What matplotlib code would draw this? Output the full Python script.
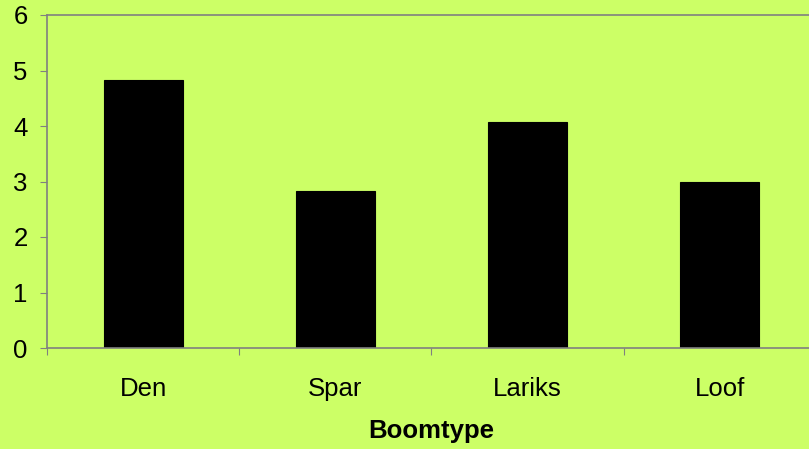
import matplotlib.pyplot as plt
import numpy as np

# data
categories = ['Den', 'Spar', 'Lariks', 'Loof']
values = [4.83, 2.83, 4.07, 3.0]
y_ticks = [0, 1, 2, 3, 4, 5, 6]

bg = '#CCFF66'
grey = '#808080'

plt.rcParams['font.family'] = ['Liberation Sans', 'DejaVu Sans']

fig = plt.figure(figsize=(8.09, 4.49), dpi=100, facecolor=bg)
# plot area runs past the right edge of the picture, like the original
ax = fig.add_axes([47 / 809, 101 / 449, 769 / 809, 333 / 449], facecolor=bg)

x = np.arange(len(categories))
ax.bar(x, values, width=0.41, color='black', edgecolor='black', linewidth=0.8)

ax.set_xlim(-0.5, len(categories) - 0.5)
ax.set_ylim(0, 6)
ax.set_yticks(y_ticks)

# tick marks on category boundaries, labels in the middle
ax.set_xticks(np.arange(-0.5, len(categories), 1.0))
ax.set_xticklabels([])
ax.set_xticks(x, minor=True)
ax.set_xticklabels(categories, minor=True)
ax.tick_params(axis='x', which='major', length=5, color=grey, width=0.8)
ax.tick_params(axis='x', which='minor', length=0, labelsize=18.5, pad=21)
ax.tick_params(axis='y', length=5, color=grey, width=0.8, labelsize=18.5, pad=9)

for s in ax.spines.values():
    s.set_color(grey)
    s.set_linewidth(1.2)

ax.set_xlabel('Boomtype', fontsize=18.5, fontweight='bold', labelpad=13)

fig.savefig('out.png', dpi=100, facecolor=bg)
